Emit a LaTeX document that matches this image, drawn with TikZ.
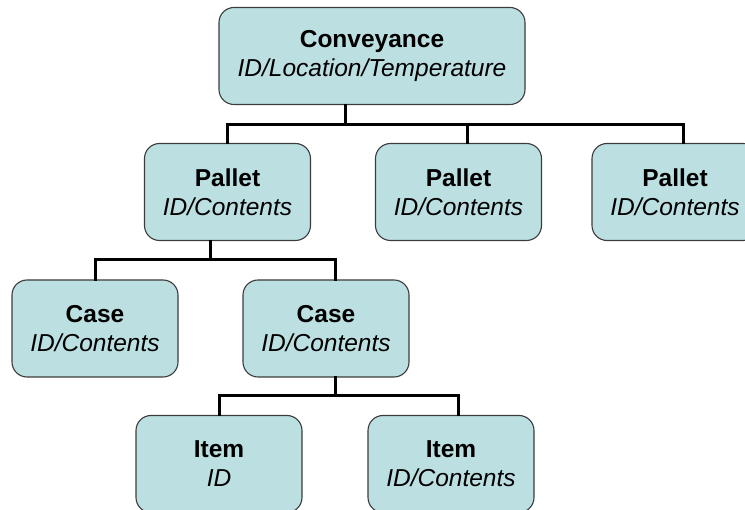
\documentclass[tikz,border=0pt]{standalone}
\usepackage{fontspec}
\setmainfont{Liberation Sans}
\usetikzlibrary{positioning, calc}
\definecolor{boxfill}{HTML}{BCE0E2}
\definecolor{boxline}{HTML}{3C3C3C}

\begin{document}
\begin{tikzpicture}[x=1pt, y=-1pt,
        every node/.style={font=\fontsize{24.5}{29}\selectfont},
        tagbox/.style={draw=boxline, line width=1.1pt, fill=boxfill, rounded corners=15pt,
            align=center, minimum width=166pt, minimum height=97pt, inner sep=0pt},
        link/.style={line width=3pt, line cap=rect}]
                \clip (0,0) rectangle (745,510);
                \fill[white] (0,0) rectangle (745,510);
                \node[tagbox, minimum width=306pt] (conv) at (372,56) {\textbf{Conveyance}\\ \textit{ID/Location/Temperature}};
                \node[tagbox] (p1) at (227.5,192) {\textbf{Pallet}\\ \textit{ID/Contents}};
                \node[tagbox] (p2) at (458.5,192) {\textbf{Pallet}\\ \textit{ID/Contents}};
                \node[tagbox] (p3) at (675,192) {\textbf{Pallet}\\ \textit{ID/Contents}};
                \node[tagbox] (c1) at (95,328.5) {\textbf{Case}\\ \textit{ID/Contents}};
                \node[tagbox] (c2) at (326,328.5) {\textbf{Case}\\ \textit{ID/Contents}};
                \node[tagbox] (i1) at (219,464) {\textbf{Item}\\ \textit{ID}};
                \node[tagbox] (i2) at (451,464) {\textbf{Item}\\ \textit{ID/Contents}};
                % level 1
                \coordinate (top) at (345,125);
                \coordinate (topmid) at (467,125);
                \coordinate (topright) at (683,125);
                \draw[link] (conv.south -| top) -- (top);
                \draw[link] (p1.north) |- (topright) -- (p3.north -| topright);
                \draw[link] (topmid) -- (p2.north -| topmid);
                % level 2
                \coordinate (mid) at (210,260);
                \coordinate (midright) at (335,260);
                \draw[link] (p1.south -| mid) -- (mid);
                \draw[link] (c1.north) |- (midright) -- (c2.north -| midright);
                % level 3
                \coordinate (low) at (335,396);
                \coordinate (lowright) at (458,396);
                \draw[link] (c2.south -| low) -- (low);
                \draw[link] (i1.north) |- (lowright) -- (i2.north -| lowright);
\end{tikzpicture}
\end{document}
